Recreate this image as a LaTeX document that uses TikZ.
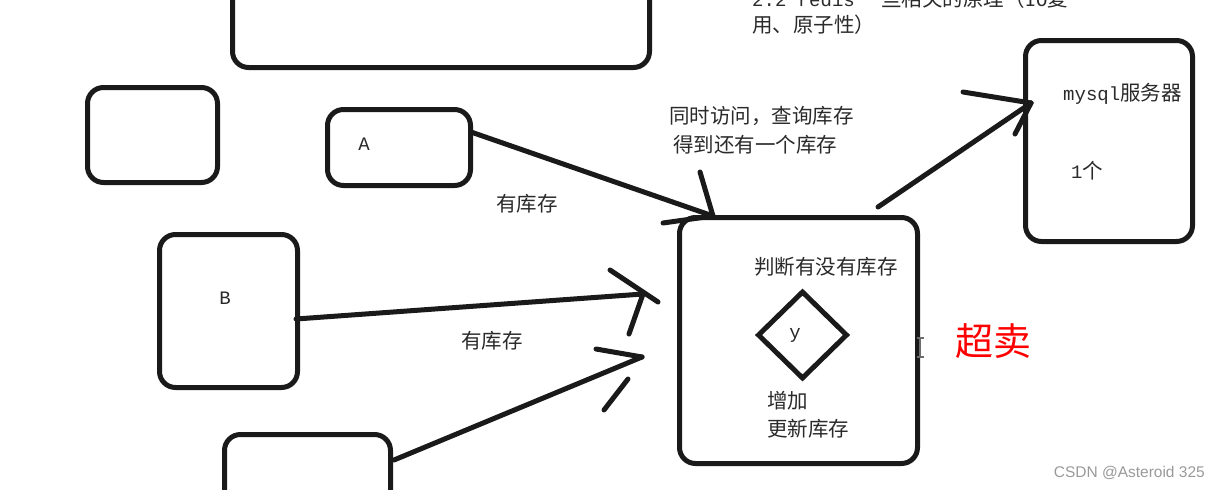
\documentclass[tikz,border=0pt]{standalone}
\usepackage{fontspec}
\setmainfont{Liberation Mono}
\newfontfamily\cjk{Noto Sans CJK SC}
\newfontfamily\wmfont{Liberation Sans}
\usetikzlibrary{shapes.geometric}
\definecolor{ink}{HTML}{1A1A1A}
\definecolor{txt}{HTML}{2A2A2A}
\definecolor{wm}{HTML}{9A9A9A}
\begin{document}
\begin{tikzpicture}[x=1pt,y=-1pt,
  box/.style={draw=ink, line width=5pt, rounded corners=16pt, inner sep=0pt},
  stroke/.style={draw=ink, line width=5pt, line cap=round},
  lbl/.style={inner sep=0pt, text=txt, font=\cjk\fontsize{20.5}{24}\selectfont},
  lat/.style={inner sep=0pt, text=txt, font=\fontsize{19}{24}\selectfont},
]
\useasboundingbox (0,0) rectangle (1221,490);
\clip (0,0) rectangle (1221,490);
\fill[white] (0,0) rectangle (1221,490);

% boxes
\node[box, minimum width=417pt, minimum height=107.5pt] (top) at (441,13.75) {};
\node[box, minimum width=130pt, minimum height=95pt] (small) at (152.5,135) {};
\node[box, minimum width=143pt, minimum height=76pt] (A) at (399,147.5) {};
\node[box, minimum width=138pt, minimum height=153pt] (B) at (228.5,311) {};
\node[box, minimum width=166pt, minimum height=105.5pt] (C) at (307.5,487.25) {};
\node[box, minimum width=238pt, minimum height=246pt] (srv) at (798.5,340.5) {};
\node[box, minimum width=167pt, minimum height=201pt] (db) at (1109,141) {};
\node[draw=ink, line width=5pt, diamond, minimum width=90pt, minimum height=88pt, inner sep=0pt] (dia) at (802.5,335) {};

% box labels
\node[lat] (la) at (364,144) {A};
\node[lat] (lb) at (225,298) {B};
\node[lat] (ly) at (795,335) {y};

% arrow 1 : A -> server
\coordinate (a1s) at (471,132);
\coordinate (a1t) at (713,216);
\coordinate (a1p) at (700,172);
\coordinate (a1q) at (663,223);
\draw[stroke] (a1s) -- (a1t);
\draw[stroke] (a1p) -- (a1t);
\draw[stroke] (a1q) -- (a1t);

% arrow 2 : B -> server
\coordinate (a2s) at (296,319);
\coordinate (a2t) at (643,294);
\coordinate (a2p) at (610,270);
\coordinate (a2r) at (658,302);
\coordinate (a2q) at (629,334);
\draw[stroke] (a2s) -- (a2t);
\draw[stroke] (a2p) -- (a2r);
\draw[stroke] (a2t) -- (a2q);

% arrow 3 : C -> server
\coordinate (a3s) at (394,460);
\coordinate (a3t) at (642,357);
\coordinate (a3p) at (596,349);
\coordinate (a3q) at (628,379);
\coordinate (a3r) at (604,410);
\draw[stroke] (a3s) -- (a3t);
\draw[stroke] (a3p) -- (a3t);
\draw[stroke] (a3q) -- (a3r);

% arrow 4 : server -> mysql
\coordinate (a4s) at (878,207);
\coordinate (a4t) at (1031,103);
\coordinate (a4p) at (963,92);
\coordinate (a4q) at (1015,134);
\draw[stroke] (a4s) -- (a4t);
\draw[stroke] (a4p) -- (a4t);
\draw[stroke] (a4q) -- (a4t);

% texts
\node[lbl, anchor=west] (t0) at (752,-1) {{\fontsize{19}{24}\rmfamily 2.2 redis}\hspace{6pt}一些相关的原理（{\fontsize{19}{24}\rmfamily IO}复};
\node[lbl, anchor=west] (t0b) at (752,25) {用、原子性）};
\node[lbl, anchor=west] (t1) at (669,116) {同时访问，查询库存};
\node[lbl, anchor=west] (t2) at (673,145) {得到还有一个库存};
\node[lbl] (t3) at (527,204) {有库存};
\node[lbl] (t4) at (492,341) {有库存};
\node[lbl] (t5) at (826,267) {判断有没有库存};
\node[lbl, anchor=west] (t6) at (767,401) {增加};
\node[lbl, anchor=west] (t7) at (767,429) {更新库存};
\node[lbl, anchor=west] (t8) at (1063,94) {{\fontsize{19}{24}\rmfamily mysql}服务器};
\node[lbl, anchor=west] (t9) at (1071,171) {{\fontsize{19}{24}\rmfamily 1}个};
\node[inner sep=0pt, text=red, font=\cjk\fontsize{38}{44}\selectfont] (t10) at (993,341) {超卖};

% text cursor
\draw[wm!70!black, line width=1.2pt] (920,338) -- (920,357) (916.5,338) -- (923.5,338) (916.5,357) -- (923.5,357);

% watermark
\node[inner sep=0pt, anchor=east, text=wm, font=\wmfont\fontsize{15.5}{18}\selectfont] (wmk) at (1205,473) {CSDN @Asteroid 325};
\end{tikzpicture}
\end{document}
